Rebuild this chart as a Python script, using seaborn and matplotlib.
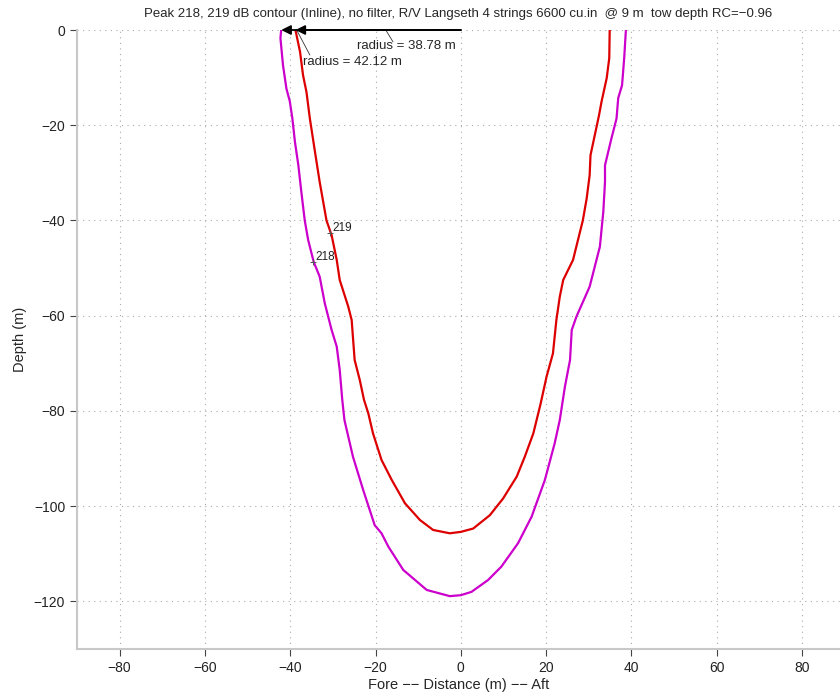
import matplotlib
matplotlib.use("Agg")
import matplotlib.pyplot as plt
import seaborn as sns
import pandas as pd

# ---- data ----
title_text = ("Peak 218, 219 dB contour (Inline), no filter, R/V Langseth 4 strings 6600 cu.in  "
              "@ 9 m  tow depth RC=\u22120.96")

x219 = [-38.78, -37.7, -37.0, -36.2, -35.4, -34.2, -33.1, -31.5, -30.3, -29.1, -28.4, -26.4,
        -25.6, -24.9, -23.7, -22.7, -21.7, -20.6, -18.6, -16.2, -13.1, -9.6, -6.5, -2.6,
        0.0, 2.9, 6.8, 9.9, 13.1, 15.0, 17.0, 18.7, 20.1, 21.6, 22.4, 23.2, 24.0, 26.3,
        28.6, 29.5, 30.2, 30.4, 31.4, 32.4, 33.0, 34.2, 34.8, 34.9]
y219 = [0.0, -4.6, -9.5, -13.0, -18.6, -25.6, -31.9, -40.0, -43.1, -48.3, -52.5, -58.1,
        -60.9, -69.3, -73.5, -77.7, -80.5, -84.7, -90.3, -94.5, -99.4, -102.9, -105.0, -105.7,
        -105.4, -104.7, -101.9, -98.4, -93.8, -89.6, -84.7, -78.5, -72.8, -67.9, -60.9, -56.0,
        -52.5, -48.3, -40.0, -35.4, -30.5, -26.3, -22.1, -17.9, -15.0, -10.1, -5.9, 0.0]

x218 = [-42.12, -42.3, -41.7, -40.9, -40.1, -39.5, -38.9, -38.1, -37.4, -36.6, -35.8, -34.5,
        -33.1, -31.9, -30.3, -29.1, -28.4, -27.8, -27.3, -25.3, -22.9, -20.2, -18.6, -17.0,
        -13.5, -8.0, -2.6, 0.0, 2.5, 6.4, 9.5, 13.4, 16.6, 19.7, 22.0, 23.2, 24.4, 25.6,
        26.0, 27.1, 30.2, 32.6, 33.2, 33.4, 33.8, 33.8, 35.3, 36.5, 36.9, 37.8, 38.3, 38.7]
y218 = [0.0, -1.7, -7.4, -12.3, -15.0, -18.6, -23.5, -28.4, -34.0, -40.0, -44.1, -48.7,
        -51.8, -57.4, -63.0, -66.5, -71.4, -77.7, -81.9, -89.6, -96.6, -104.0, -105.7, -108.5,
        -113.4, -117.6, -118.9, -118.7, -118.0, -115.5, -112.7, -107.8, -102.2, -94.5, -86.8, -81.9,
        -74.9, -69.3, -63.0, -60.2, -53.9, -45.5, -40.0, -38.2, -31.9, -28.4, -22.8, -18.6,
        -14.3, -11.6, -5.9, 0.0]

radius_values = [38.78, 42.12]
contour_levels = ["219", "218"]
label_pos_x = [-30.2, -34.2]
label_pos_y = [-41.6, -47.7]

x_ticks = [-80, -60, -40, -20, 0, 20, 40, 60, 80]
y_ticks = [0, -20, -40, -60, -80, -100, -120]

# ---- style ----
sns.set_theme(style="white")
plt.rcParams['font.family'] = ['Liberation Sans', 'DejaVu Sans']
plt.rcParams['axes.unicode_minus'] = True

fig = plt.figure(figsize=(8.4, 6.98), dpi=100)
ax = fig.add_axes([77/840, 49/698, (840-77)/840, (649-30)/698])

df219 = pd.DataFrame({"x": x219, "y": y219})
df218 = pd.DataFrame({"x": x218, "y": y218})
sns.lineplot(data=df218, x="x", y="y", sort=False, estimator=None, color="#cc00cc",
             lw=1.6, ax=ax)
sns.lineplot(data=df219, x="x", y="y", sort=False, estimator=None, color="#dd0000",
             lw=1.6, ax=ax)

ax.set_xlim(-90, 88.9)
ax.set_ylim(-130, 0)
ax.set_xticks(x_ticks)
ax.set_yticks(y_ticks)
ax.set_xticklabels([f"{t}".replace("-", "\u2212") for t in x_ticks])
ax.set_yticklabels([f"{t}".replace("-", "\u2212") for t in y_ticks])
ax.grid(True, linestyle=(0, (1, 4)), color="#aaaaaa", lw=0.8)
for s in ["top", "right"]:
    ax.spines[s].set_visible(False)
for s in ["left", "bottom"]:
    ax.spines[s].set_color("#c8c8c8")
    ax.spines[s].set_linewidth(1.5)
ax.tick_params(direction="out", length=5, width=0.8, color="#444444",
               labelsize=10, labelcolor="#222222", bottom=True, left=True)

ax.set_xlabel("Fore \u2212\u2212 Distance (m) \u2212\u2212 Aft", fontsize=10.5, labelpad=2)
ax.set_ylabel("Depth (m)", fontsize=10.5, labelpad=5)
ax.set_title(title_text, fontsize=9.5, pad=9)

# radius arrows
for r in radius_values:
    ax.annotate("", xy=(-r, 0), xytext=(0, 0), annotation_clip=False,
                arrowprops=dict(arrowstyle="-|>", color="black", lw=1.3,
                                mutation_scale=14, shrinkA=0, shrinkB=0))
ax.text(-24.4, -3.3, f"radius = {radius_values[0]:.2f} m", fontsize=9.5, ha="left", va="center")
ax.text(-37.0, -6.8, f"radius = {radius_values[1]:.2f} m", fontsize=9.5, ha="left", va="center")
ax.plot([-17.6, -15.9], [0, -2.5], color="#333333", lw=0.6, clip_on=False)
ax.plot([-38.5, -35.4], [0, -5.25], color="#333333", lw=0.6, clip_on=False)

# contour labels
for lx, ly, lab in zip(label_pos_x, label_pos_y, contour_levels):
    ax.plot([lx - 0.4], [ly - 1.0], marker="+", color="#555555", ms=5, mew=0.7)
    ax.text(lx, ly, lab, fontsize=8.5, ha="left", va="center", color="#222222")

fig.savefig("out.png", dpi=100)
